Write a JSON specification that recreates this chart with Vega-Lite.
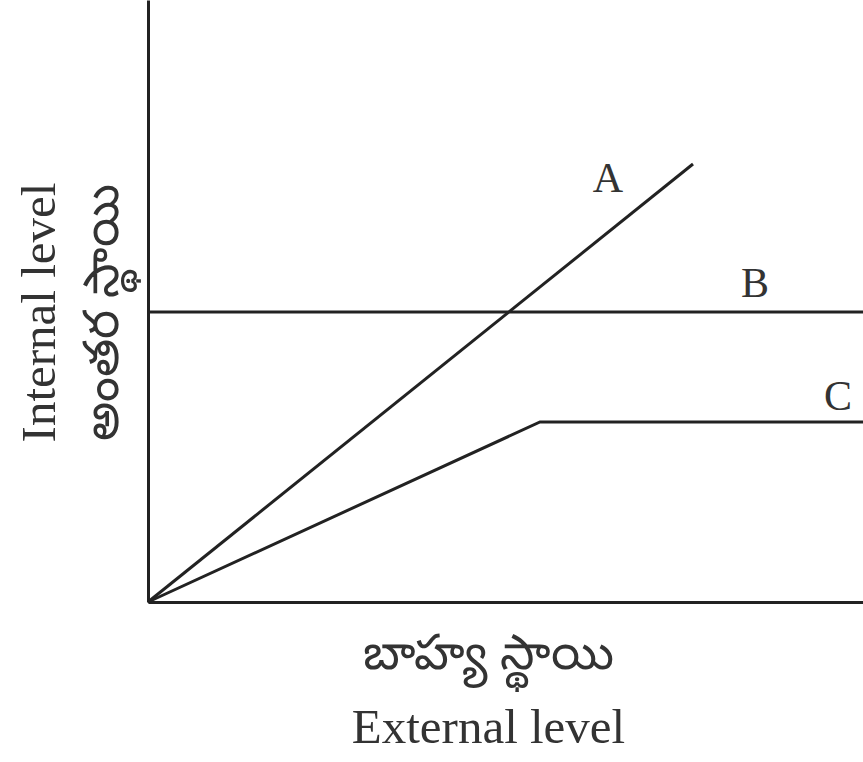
{
  "$schema": "https://vega.github.io/schema/vega-lite/v6.json",
  "autosize": "none",
  "width": 715,
  "height": 602,
  "padding": {"left": 148, "top": 0, "right": 0, "bottom": 160},
  "background": "white",
  "config": {"view": {"stroke": null}},
  "datasets": {
    "lines": [
      {"series": "A", "o": 0, "x": 0, "y": 0},
      {"series": "A", "o": 1, "x": 545, "y": 438},
      {"series": "B", "o": 0, "x": 0, "y": 290},
      {"series": "B", "o": 1, "x": 715, "y": 290},
      {"series": "C", "o": 0, "x": 0, "y": 0},
      {"series": "C", "o": 1, "x": 392, "y": 180},
      {"series": "C", "o": 2, "x": 715, "y": 180}
    ],
    "labels": [
      {"label": "A", "x": 460, "y": 410},
      {"label": "B", "x": 607, "y": 305},
      {"label": "C", "x": 690, "y": 192}
    ]
  },
  "layer": [
    {
      "data": {"name": "lines"},
      "mark": {"type": "line", "color": "#222222", "strokeWidth": 3, "clip": false},
      "encoding": {
        "x": {
          "field": "x", "type": "quantitative",
          "scale": {"domain": [0, 715], "nice": false, "zero": false},
          "axis": {
            "ticks": false, "labels": false, "grid": false,
            "domainColor": "#222222", "domainWidth": 3,
            "title": ["బాహ్య స్థాయి", "External level"],
            "titleFont": "Liberation Serif", "titleFontSize": 49, "titleFontWeight": "normal",
            "titleColor": "#333333", "titleLineHeight": 74,
            "titleX": 340, "titleY": 66, "titleBaseline": "alphabetic", "titleAlign": "center"
          }
        },
        "y": {
          "field": "y", "type": "quantitative",
          "scale": {"domain": [0, 602], "nice": false, "zero": false},
          "axis": {
            "ticks": false, "labels": false, "grid": false,
            "domainColor": "#222222", "domainWidth": 3,
            "title": ["Internal level", "అంతర స్థాయి"],
            "titleFont": "Liberation Serif", "titleFontSize": 49, "titleFontWeight": "normal",
            "titleColor": "#333333", "titleLineHeight": 63, "titleAngle": -90,
            "titleX": -94, "titleY": 312, "titleBaseline": "alphabetic", "titleAlign": "center"
          }
        },
        "detail": {"field": "series"},
        "order": {"field": "o", "type": "quantitative"}
      }
    },
    {
      "data": {"name": "labels"},
      "mark": {"type": "text", "font": "Liberation Serif", "fontSize": 42, "color": "#333333", "baseline": "alphabetic", "align": "center"},
      "encoding": {
        "x": {"field": "x", "type": "quantitative"},
        "y": {"field": "y", "type": "quantitative"},
        "text": {"field": "label"}
      }
    }
  ]
}
